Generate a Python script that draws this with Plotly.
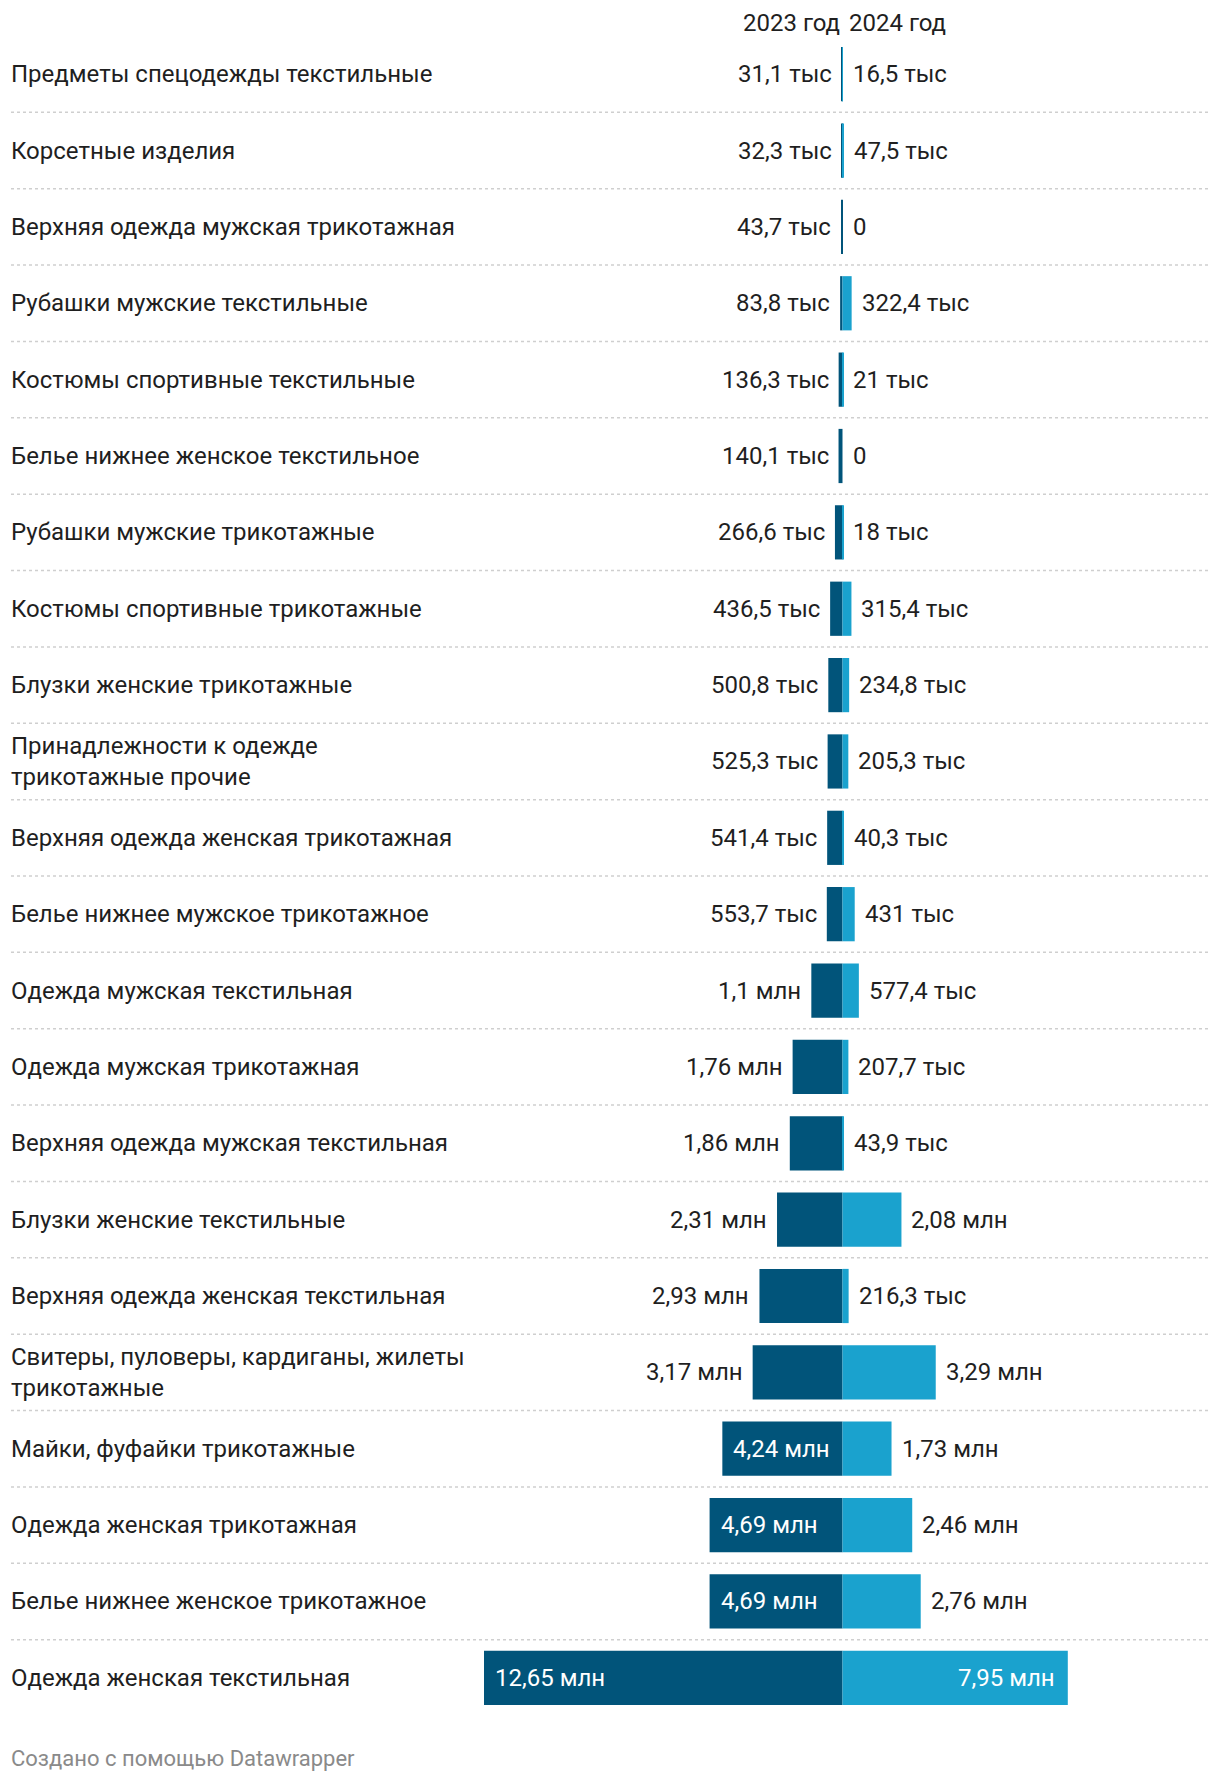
import plotly.graph_objects as go

categories = [
    "Предметы спецодежды текстильные",
    "Корсетные изделия",
    "Верхняя одежда мужская трикотажная",
    "Рубашки мужские текстильные",
    "Костюмы спортивные текстильные",
    "Белье нижнее женское текстильное",
    "Рубашки мужские трикотажные",
    "Костюмы спортивные трикотажные",
    "Блузки женские трикотажные",
    "Принадлежности к одежде<br>трикотажные прочие",
    "Верхняя одежда женская трикотажная",
    "Белье нижнее мужское трикотажное",
    "Одежда мужская текстильная",
    "Одежда мужская трикотажная",
    "Верхняя одежда мужская текстильная",
    "Блузки женские текстильные",
    "Верхняя одежда женская текстильная",
    "Свитеры, пуловеры, кардиганы, жилеты<br>трикотажные",
    "Майки, фуфайки трикотажные",
    "Одежда женская трикотажная",
    "Белье нижнее женское трикотажное",
    "Одежда женская текстильная",
]

values_2023 = [31100, 32300, 43700, 83800, 136300, 140100, 266600, 436500, 500800,
               525300, 541400, 553700, 1100000, 1760000, 1860000, 2310000, 2930000,
               3170000, 4240000, 4690000, 4690000, 12650000]
values_2024 = [16500, 47500, 0, 322400, 21000, 0, 18000, 315400, 234800,
               205300, 40300, 431000, 577400, 207700, 43900, 2080000, 216300,
               3290000, 1730000, 2460000, 2760000, 7950000]

series_names = ["2023 год", "2024 год"]
footer_text = "Создано с помощью Datawrapper"

DARK = "#01547a"
LIGHT = "#1aa2ce"
TEXT = "#1f1f1f"
FONT = "Roboto"
FS = 24

W, H = 1220, 1782
ZERO_PX = 842.5
PX_PER_UNIT = 28.34 / 1e6
TOP, BOTTOM = 36, 66
PLOT_H = H - TOP - BOTTOM


def py(y_px):
    """pixel row (from top of figure) -> paper y"""
    return (H - BOTTOM - y_px) / PLOT_H


def fmt(v):
    if v == 0:
        return "0"
    if v >= 1e6:
        s = f"{v/1e6:.2f}".rstrip("0").rstrip(".")
        return s.replace(".", ",") + " млн"
    s = f"{v/1e3:.1f}".rstrip("0").rstrip(".")
    return s.replace(".", ",") + " тыс"


INSIDE_MIN = 4e6

n = len(categories)
idx = list(range(n))

fig = go.Figure()
fig.add_trace(go.Bar(y=idx, x=[-v for v in values_2023], orientation="h",
                     marker=dict(color=DARK, line=dict(width=0)), name=series_names[0],
                     hoverinfo="skip"))
fig.add_trace(go.Bar(y=idx, x=values_2024, orientation="h",
                     marker=dict(color=LIGHT, line=dict(width=0)), name=series_names[1],
                     hoverinfo="skip"))

ann = []
for i in idx:
    ann.append(dict(xref="paper", yref="y", x=9 / W, y=i, text=categories[i],
                    xanchor="left", yanchor="middle", showarrow=False, align="left",
                    font=dict(family=FONT, size=FS, color=TEXT)))
    v1 = values_2023[i]
    if v1 >= INSIDE_MIN:
        ann.append(dict(xref="x", yref="y", x=-v1, y=i, text=fmt(v1), xanchor="left",
                        xshift=9, showarrow=False,
                        font=dict(family=FONT, size=FS, color="white")))
    else:
        ann.append(dict(xref="x", yref="y", x=-v1, y=i, text=fmt(v1), xanchor="right",
                        xshift=-8, showarrow=False,
                        font=dict(family=FONT, size=FS, color=TEXT)))
    v2 = values_2024[i]
    if v2 >= INSIDE_MIN:
        ann.append(dict(xref="x", yref="y", x=v2, y=i, text=fmt(v2), xanchor="right",
                        xshift=-11, showarrow=False,
                        font=dict(family=FONT, size=FS, color="white")))
    else:
        ann.append(dict(xref="x", yref="y", x=v2, y=i, text=fmt(v2), xanchor="left",
                        xshift=8, showarrow=False,
                        font=dict(family=FONT, size=FS, color=TEXT)))

# column headers
ann.append(dict(xref="x", yref="paper", x=0, y=py(23), text=series_names[0],
                xanchor="right", xshift=-1, yanchor="middle", showarrow=False,
                font=dict(family=FONT, size=FS, color=TEXT)))
ann.append(dict(xref="x", yref="paper", x=0, y=py(23), text=series_names[1],
                xanchor="left", xshift=4, yanchor="middle", showarrow=False,
                font=dict(family=FONT, size=FS, color=TEXT)))
# footer
ann.append(dict(xref="paper", yref="paper", x=9 / W, y=py(1759), text=footer_text,
                xanchor="left", yanchor="middle", showarrow=False,
                font=dict(family=FONT, size=22, color="#8a8a8a")))

shapes = []
for i in range(n - 1):
    shapes.append(dict(type="line", xref="paper", yref="y", x0=11 / W, x1=1208 / W,
                       y0=i + 0.5, y1=i + 0.5,
                       line=dict(color="#cfcfcf", width=1.5, dash="dot")))

fig.update_layout(
    width=W, height=H,
    margin=dict(l=0, r=0, t=TOP, b=BOTTOM, pad=0),
    barmode="relative", bargap=0.29,
    plot_bgcolor="white", paper_bgcolor="white",
    showlegend=False,
    xaxis=dict(range=[-ZERO_PX / PX_PER_UNIT, (W - ZERO_PX) / PX_PER_UNIT],
               visible=False, fixedrange=True),
    yaxis=dict(range=[n - 0.5, -0.5], visible=False, fixedrange=True),
    annotations=ann, shapes=shapes,
    font=dict(family=FONT),
)

fig.write_html("out.html", config={"displayModeBar": False},
               post_script="document.body.style.margin='0';")
